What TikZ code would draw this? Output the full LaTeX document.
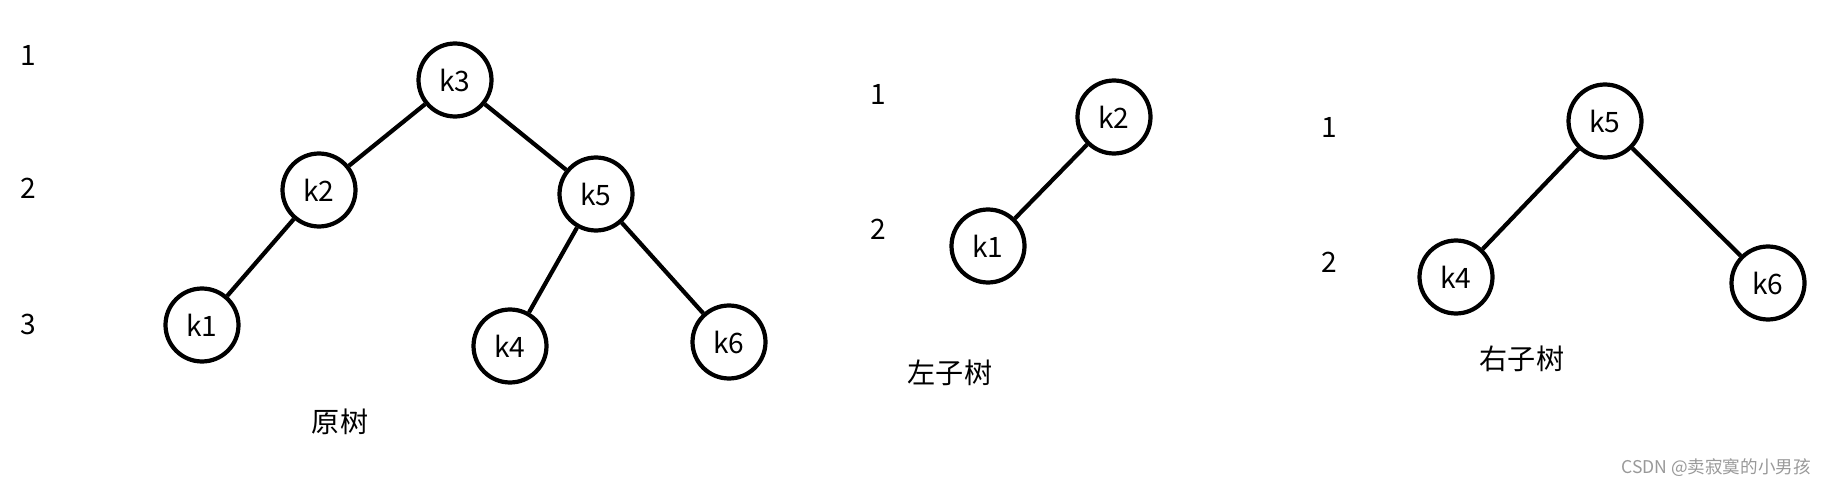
\documentclass[tikz,border=0pt]{standalone}
\usepackage{fontspec}
\setmainfont{Noto Sans CJK SC}
\begin{document}
\begin{tikzpicture}[x=0.02cm, y=-0.02cm,
    knode/.style={draw, circle, line width=2.4pt, minimum size=1.46cm, inner sep=0pt, font=\fontsize{16}{19}\selectfont},
    edge/.style={line width=2.4pt},
    level/.style={font=\fontsize{16}{19}\selectfont},
    caption/.style={font=\fontsize{16}{19}\selectfont}
]
\useasboundingbox (0,0) rectangle (1839,486);

% original tree
\node[level] (o1) at (28,55) {1};
\node[level] (o2) at (28,188) {2};
\node[level] (o3) at (28,324) {3};
\node[knode] (k3) at (455,80) {k3};
\node[knode] (k2) at (319,190) {k2};
\node[knode] (k5) at (596,194) {k5};
\node[knode] (k1) at (202,325) {k1};
\node[knode] (k4) at (510,346) {k4};
\node[knode] (k6) at (729,342) {k6};
\draw[edge] (k3) -- (k2);
\draw[edge] (k3) -- (k5);
\draw[edge] (k2) -- (k1);
\draw[edge] (k5) -- (k4);
\draw[edge] (k5) -- (k6);
\node[caption] (orig) at (340,422) {原树};

% left subtree
\node[level] (l1) at (878,94) {1};
\node[level] (l2) at (878,229) {2};
\node[knode] (lk2) at (1114,117) {k2};
\node[knode] (lk1) at (988,246) {k1};
\draw[edge] (lk2) -- (lk1);
\node[caption] (left) at (950,373) {左子树};

% right subtree
\node[level] (r1) at (1329,127) {1};
\node[level] (r2) at (1329,262) {2};
\node[knode] (rk5) at (1605,121) {k5};
\node[knode] (rk4) at (1456,277) {k4};
\node[knode] (rk6) at (1768,283) {k6};
\draw[edge] (rk5) -- (rk4);
\draw[edge] (rk5) -- (rk6);
\node[caption] (right) at (1522,359) {右子树};

\node[font=\fontsize{10}{12}\selectfont, text=gray!80] (mark) at (1716,468) {CSDN @卖寂寞的小男孩};
\end{tikzpicture}
\end{document}
